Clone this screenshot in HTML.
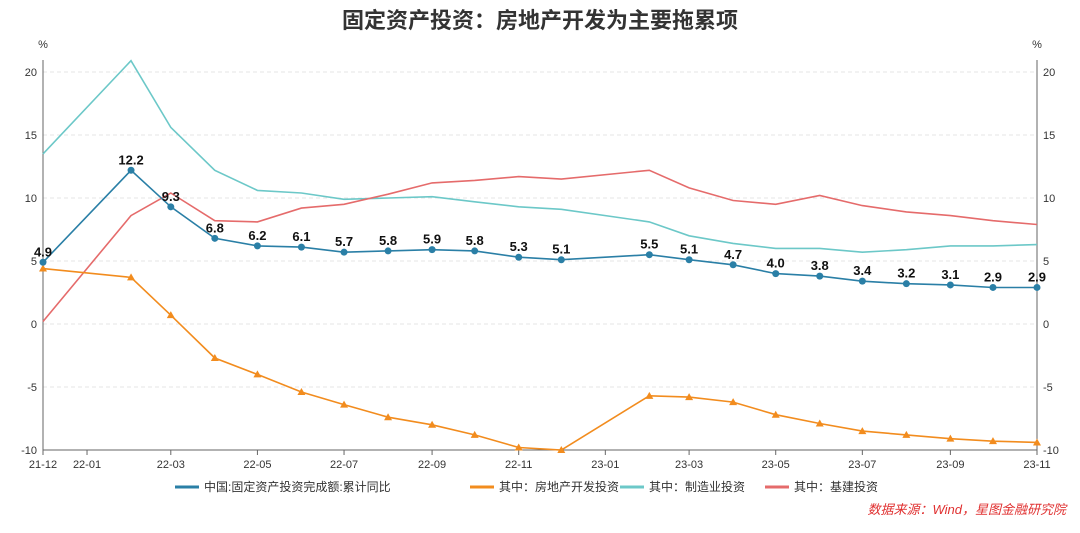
<!DOCTYPE html>
<html><head><meta charset="utf-8"><style>
body{margin:0;background:#fff;font-family:"Liberation Sans","Noto Sans CJK SC",sans-serif}
svg text{font-family:"Liberation Sans","Noto Sans CJK SC",sans-serif}
</style></head><body>
<svg id="c" width="1080" height="528">
<text x="540" y="28" text-anchor="middle" font-size="22" font-weight="bold" fill="#333">固定资产投资：房地产开发为主要拖累项</text>
<text x="43" y="48" text-anchor="middle" font-size="11" fill="#333">%</text>
<text x="1037" y="48" text-anchor="middle" font-size="11" fill="#333">%</text>
<g id="grid"></g><g id="axes"></g><g id="series"></g><g id="legend"></g>
<text x="1066" y="514" text-anchor="end" font-size="13" font-style="italic" fill="#e03030">数据来源：Wind，星图金融研究院</text>
</svg>
<script>
const dates=["2021-12","2022-02","2022-03","2022-04","2022-05","2022-06","2022-07","2022-08","2022-09","2022-10","2022-11","2022-12","2023-02","2023-03","2023-04","2023-05","2023-06","2023-07","2023-08","2023-09","2023-10","2023-11"];
const fai=[4.9,12.2,9.3,6.8,6.2,6.1,5.7,5.8,5.9,5.8,5.3,5.1,5.5,5.1,4.7,4.0,3.8,3.4,3.2,3.1,2.9,2.9];
const realEstate=[4.4,3.7,0.7,-2.7,-4.0,-5.4,-6.4,-7.4,-8.0,-8.8,-9.8,-10.0,-5.7,-5.8,-6.2,-7.2,-7.9,-8.5,-8.8,-9.1,-9.3,-9.4];
const manufacturing=[13.5,20.9,15.6,12.2,10.6,10.4,9.9,10.0,10.1,9.7,9.3,9.1,8.1,7.0,6.4,6.0,6.0,5.7,5.9,6.2,6.2,6.3];
const infra=[0.2,8.6,10.4,8.2,8.1,9.2,9.5,10.3,11.2,11.4,11.7,11.5,12.2,10.8,9.8,9.5,10.2,9.4,8.9,8.6,8.2,7.9];
const xTicks=["21-12","22-01","22-03","22-05","22-07","22-09","22-11","23-01","23-03","23-05","23-07","23-09","23-11"];
const yTicks=[-10,-5,0,5,10,15,20];
const NS="http://www.w3.org/2000/svg";
const X0=43,X1=1037,t0=Date.UTC(2021,11,1),t1=Date.UTC(2023,10,1);
function xs(s){const p=s.split("-");let y=+p[0];if(y<100)y+=2000;return X0+(Date.UTC(y,+p[1]-1,1)-t0)/(t1-t0)*(X1-X0);}
function ys(v){return 324-v*12.6;}
function mk(t,a,parent){const e=document.createElementNS(NS,t);for(const k in a)e.setAttribute(k,a[k]);document.getElementById(parent).appendChild(e);return e;}
yTicks.forEach(v=>{
 const g=mk("line",{x1:X0,x2:X1,y1:ys(v),y2:ys(v),stroke:"#e6e6e6","stroke-dasharray":"4,3"},"grid");
 
 
 const l=mk("text",{x:X0-6,y:ys(v)+4,"text-anchor":"end","font-size":11,fill:"#333"},"axes");l.textContent=v;
 
 
 const r=mk("text",{x:X1+6,y:ys(v)+4,"font-size":11,fill:"#333"},"axes");r.textContent=v;
 
 
});
[X0,X1].forEach(x=>{const a=mk("line",{x1:x,x2:x,y1:60,y2:450,stroke:"#666"},"axes");
 
 });
const xa=mk("line",{x1:X0,x2:X1,y1:450,y2:450,stroke:"#666"},"axes");


xTicks.forEach(s=>{const x=xs(s);mk("line",{x1:x,x2:x,y1:450,y2:455,stroke:"#666"},"axes");
 const t=mk("text",{x:x,y:468,"text-anchor":"middle","font-size":11,fill:"#333"},"axes");t.textContent=s;
 
 });
function line(vals,color,name){const d=vals.map((v,i)=>(i?"L":"M")+xs(dates[i]).toFixed(1)+","+ys(v).toFixed(1)).join("");
 const p=mk("path",{d:d,fill:"none",stroke:color,"stroke-width":1.6},"series");
 
 }
line(manufacturing,"#6cc8c8","manufacturing-line");
line(infra,"#e56b6b","infrastructure-line");
line(realEstate,"#f28c1e","real-estate-line");
realEstate.forEach((v,i)=>{const x=xs(dates[i]),y=ys(v);
 const m=mk("path",{d:`M${x},${y-4}L${x+4},${y+3}L${x-4},${y+3}Z`,fill:"#f28c1e"},"series");
 
 });
line(fai,"#2a7fa6","fai-line");
fai.forEach((v,i)=>{const x=xs(dates[i]),y=ys(v);
 const c=mk("circle",{cx:x,cy:y,r:3.5,fill:"#2a7fa6"},"series");
 
 
 const t=mk("text",{x:x,y:y-6,"text-anchor":"middle","font-size":13,"font-weight":"bold",fill:"#111"},"series");t.textContent=v.toFixed(1);
 
 });
const leg=[["中国:固定资产投资完成额:累计同比","#2a7fa6",175],["其中：房地产开发投资","#f28c1e",470],["其中：制造业投资","#6cc8c8",620],["其中：基建投资","#e56b6b",765]];
leg.forEach(l=>{const g=mk("g",{},"legend");
 
 
 const ln=document.createElementNS(NS,"line");ln.setAttribute("x1",l[2]);ln.setAttribute("x2",l[2]+24);ln.setAttribute("y1",487);ln.setAttribute("y2",487);ln.setAttribute("stroke",l[1]);ln.setAttribute("stroke-width",3);g.appendChild(ln);
 const t=document.createElementNS(NS,"text");t.setAttribute("x",l[2]+29);t.setAttribute("y",491);t.setAttribute("font-size",12);t.setAttribute("fill","#333");t.textContent=l[0];g.appendChild(t);});
</script>
</body></html>
